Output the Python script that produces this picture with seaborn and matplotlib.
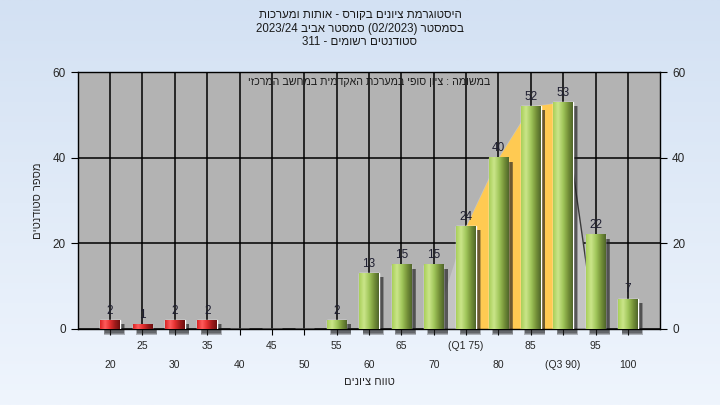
import re
import numpy as np
import pandas as pd
import matplotlib
matplotlib.use('Agg')
import matplotlib.pyplot as plt
import matplotlib.transforms as mtransforms
from matplotlib.patches import Rectangle, Polygon
from matplotlib.colors import LinearSegmentedColormap
import seaborn as sns

# ---- data ----
grades = [20, 25, 30, 35, 40, 45, 50, 55, 60, 65, 70, 75, 80, 85, 90, 95, 100]
counts = [2, 1, 2, 2, 0, 0, 0, 2, 13, 15, 15, 24, 40, 52, 53, 22, 7]
tick_labels = ['20', '25', '30', '35', '40', '45', '50', '55', '60', '65', '70',
               '(Q1 75)', '80', '85', '(Q3 90)', '95', '100']
pass_mark = 55
q1_grade, q3_grade = 75, 90
y_ticks = [0, 20, 40, 60]

title_lines = ['היסטוגרמת ציונים בקורס - אותות ומערכות',
               'בסמסטר (02/2023) סמסטר אביב 2023/24',
               'סטודנטים רשומים - 311']
note_text = 'במשומה : ציון סופי במערכת האקדמית במחשב המרכזי'
x_title = 'טווח ציונים'
y_title = 'מספר סטודנטים'


def rtl(s):
    # matplotlib has no bidi: build the visual order by hand
    r = s[::-1]
    r = re.sub(r'[0-9A-Za-z/.]+', lambda m: m.group(0)[::-1], r)
    return r.translate(str.maketrans('()', ')('))


sns.set_style('ticks')
plt.rcParams['font.family'] = ['Liberation Sans', 'DejaVu Sans']

df = pd.DataFrame({'grade': [str(g) for g in grades], 'count': counts})
df['group'] = np.where(np.array(grades) >= pass_mark, 'pass', 'fail')

fig = plt.figure(figsize=(7.2, 4.05), dpi=100)

# background gradient
bg = fig.add_axes([0, 0, 1, 1], zorder=-10)
bg_cmap = LinearSegmentedColormap.from_list('bg', ['#eff5fd', '#d3e1f3'])
bg.imshow(np.linspace(0, 1, 256).reshape(-1, 1), cmap=bg_cmap, aspect='auto',
          extent=[0, 1, 0, 1], origin='lower')
bg.axis('off')

ax = fig.add_axes([0.108, 0.188, 0.809, 0.634])
ax.set_facecolor('#b3b3b3')

sns.barplot(data=df, x='grade', y='count', hue='group', dodge=False, width=0.6,
            palette={'fail': '#e03030', 'pass': '#98c050'}, legend=False,
            saturation=1, ax=ax, zorder=3)

# area under the distribution (gray) and the Q1-Q3 band (orange)
i1, i3 = grades.index(q1_grade), grades.index(q3_grade)
xs = np.arange(i1 - 1, i3 + 2)
ys = np.array(counts[i1 - 1:i3 + 2], dtype=float)
ys[0] = ys[-1] = 0
ax.add_patch(Polygon(np.column_stack([np.r_[xs, xs[-1], xs[0]], np.r_[ys, 0, 0]]),
                     closed=True, fc='#c4c4c4', ec='none', zorder=1.5))
xo = np.arange(i1, i3 + 1)
ax.fill_between(xo, 0, counts[i1:i3 + 1], color='#ffca52', lw=0, zorder=1.6)
ax.plot(xs[-2:], ys[-2:], color='#3a3a3a', lw=1.0, zorder=1.7)

# cylinder-like gradient + soft shadow on each bar
grad_cols = {'fail': ['#d82424', '#ff5c5c', '#e43030', '#a01c1c', '#6e1010'],
             'pass': ['#a9d05a', '#cbe58a', '#a2c85c', '#78953a', '#50662a']}
shadow_tr = mtransforms.offset_copy(ax.transData, fig=fig, x=3.0, y=-3.0, units='points')
for patch, grp, val in zip(ax.patches, df['group'], counts):
    if val == 0:
        continue
    x0, w, h = patch.get_x(), patch.get_width(), patch.get_height()
    for k in range(3):
        ax.add_patch(Rectangle((x0 - 0.012 * k, -0.2 * k), w + 0.024 * k, h + 0.2 * k,
                               transform=shadow_tr, fc='#202020', ec='none',
                               alpha=0.3, zorder=2, clip_on=False))
    cm = LinearSegmentedColormap.from_list('b', grad_cols[grp])
    ax.imshow(np.linspace(0, 1, 64).reshape(1, -1), cmap=cm, aspect='auto',
              extent=[x0, x0 + w, 0, h], zorder=3.5, interpolation='bilinear')
    ax.text(x0 + w / 2, h + 0.8, str(val), ha='center', va='bottom',
            fontsize=8.5, color='#1e1e30', zorder=5)

ax.set_xlim(-1, len(grades))
ax.set_ylim(0, 60)
ax.set_yticks(y_ticks)
ax.set_xticks(range(len(grades)))
ax.set_xticklabels([lab if i % 2 else '\n' + lab for i, lab in enumerate(tick_labels)],
                   fontsize=7.5, linespacing=2.1)
ax.grid(True, color='black', lw=1.1)
ax.set_axisbelow(True)
ax.tick_params(axis='y', labelsize=8.5, right=True, labelright=True,
               direction='out', length=5, color='black')
ax.tick_params(axis='x', direction='out', length=4, color='black', pad=5)
for sp in ax.spines.values():
    sp.set_visible(True)
    sp.set_color('black')
    sp.set_linewidth(1.0)

ax.set_xlabel(rtl(x_title), fontsize=8, labelpad=5)
ax.set_ylabel(rtl(y_title), fontsize=8, labelpad=7)

ax.text(0.5, 0.96, rtl(note_text), transform=ax.transAxes, ha='center', va='center',
        fontsize=7.7, color='#1a1a1a', zorder=6)

fig.text(0.5, 0.977, '\n'.join(rtl(t) for t in title_lines), ha='center', va='top',
         fontsize=8.3, linespacing=1.15, color='#1a1a1a')

fig.savefig('out.png', dpi=100)
